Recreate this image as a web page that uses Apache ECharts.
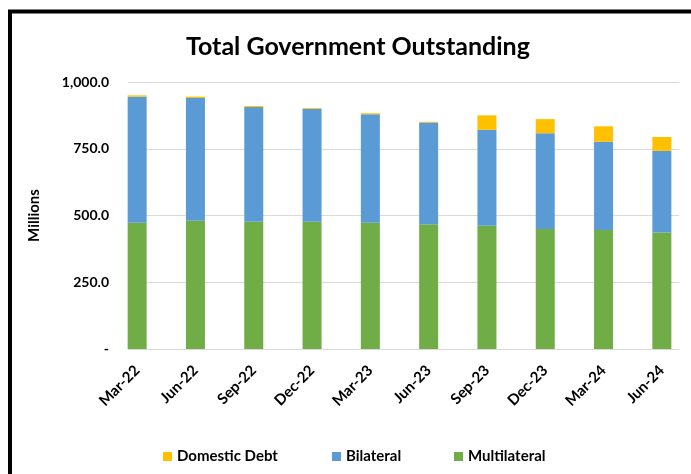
<!DOCTYPE html>
<html>
<head>
<meta charset="utf-8">
<script src="https://cdn.jsdelivr.net/npm/echarts@6/dist/echarts.min.js"></script>
<style>html,body{margin:0;padding:0;background:#fff}#c{width:691px;height:474px}</style>
</head>
<body>
<div id="c"></div>
<script>
const categories = ['Mar-22','Jun-22','Sep-22','Dec-22','Mar-23','Jun-23','Sep-23','Dec-23','Mar-24','Jun-24'];
const multilateral = [473, 480, 477, 477, 473, 467, 462, 449, 446, 436];
const bilateral = [472, 460, 429, 423, 406, 381, 359, 359, 330, 306];
const domestic = [5, 5, 4, 3, 4, 3, 54, 53, 58, 52];
const yTicks = [0, 250, 500, 750, 1000];

const FONT = 'Lato';
const chart = echarts.init(document.getElementById('c'));
function fmt(v){
  if (v === 0) return '-';
  return v.toLocaleString('en-US', {minimumFractionDigits:1, maximumFractionDigits:1});
}
const legendBase = {
  orient: 'horizontal', itemWidth: 9, itemHeight: 9, icon: 'rect', itemGap: 5,
  textStyle: {fontFamily: FONT, fontWeight: 'bold', fontSize: 15, color: '#000'},
  top: 444
};
chart.setOption({
  animation: false,
  title: {
    text: 'Total Government Outstanding', left: 181, top: 29,
    textStyle: {fontFamily: FONT, fontWeight: 'bold', fontSize: 25, color: '#000'}
  },
  legend: [
    Object.assign({}, legendBase, {left: 158, data: ['Domestic Debt']}),
    Object.assign({}, legendBase, {left: 327, data: ['Bilateral']}),
    Object.assign({}, legendBase, {left: 449, data: ['Multilateral']})
  ],
  graphic: [{
    type: 'rect', shape: {x: 10, y: 11.5, width: 720, height: 500},
    style: {fill: 'none', stroke: '#000', lineWidth: 4}, z: 100
  }],
  grid: [
    {left: 108, width: 591.7, top: 82, bottom: 125},
    {left: 128, width: 551, top: 82, bottom: 125}
  ],
  xAxis: [
    {gridIndex: 0, type: 'category', data: categories,
     axisLine: {show: false}, axisTick: {show: false},
     axisLabel: {rotate: 45, margin: 19, fontFamily: FONT, fontWeight: 'bold', fontSize: 15, color: '#000'}},
    {gridIndex: 1, type: 'value', min: 0, max: 1, show: false}
  ],
  yAxis: [
    {gridIndex: 0, type: 'value', min: yTicks[0], max: yTicks[yTicks.length-1], interval: 250, show: false},
    {gridIndex: 1, type: 'value', min: yTicks[0], max: yTicks[yTicks.length-1], interval: 250,
     name: 'Millions', nameLocation: 'middle', nameGap: 86, nameRotate: 90,
     nameTextStyle: {fontFamily: FONT, fontWeight: 'bold', fontSize: 15, color: '#000'},
     axisLine: {show: false}, axisTick: {show: false},
     splitLine: {lineStyle: {color: '#d9d9d9', width: 1}},
     axisLabel: {formatter: fmt, margin: 19, fontFamily: FONT, fontWeight: 'bold', fontSize: 14, color: '#000'}}
  ],
  series: [
    {name: 'Multilateral', type: 'bar', stack: 't', data: multilateral, barWidth: 19,
     itemStyle: {color: '#70AD47'}, xAxisIndex: 0, yAxisIndex: 0},
    {name: 'Bilateral', type: 'bar', stack: 't', data: bilateral, barWidth: 19,
     itemStyle: {color: '#5B9BD5'}, xAxisIndex: 0, yAxisIndex: 0},
    {name: 'Domestic Debt', type: 'bar', stack: 't', data: domestic, barWidth: 19,
     itemStyle: {color: '#FFC000'}, xAxisIndex: 0, yAxisIndex: 0}
  ]
});
</script>
</body>
</html>
